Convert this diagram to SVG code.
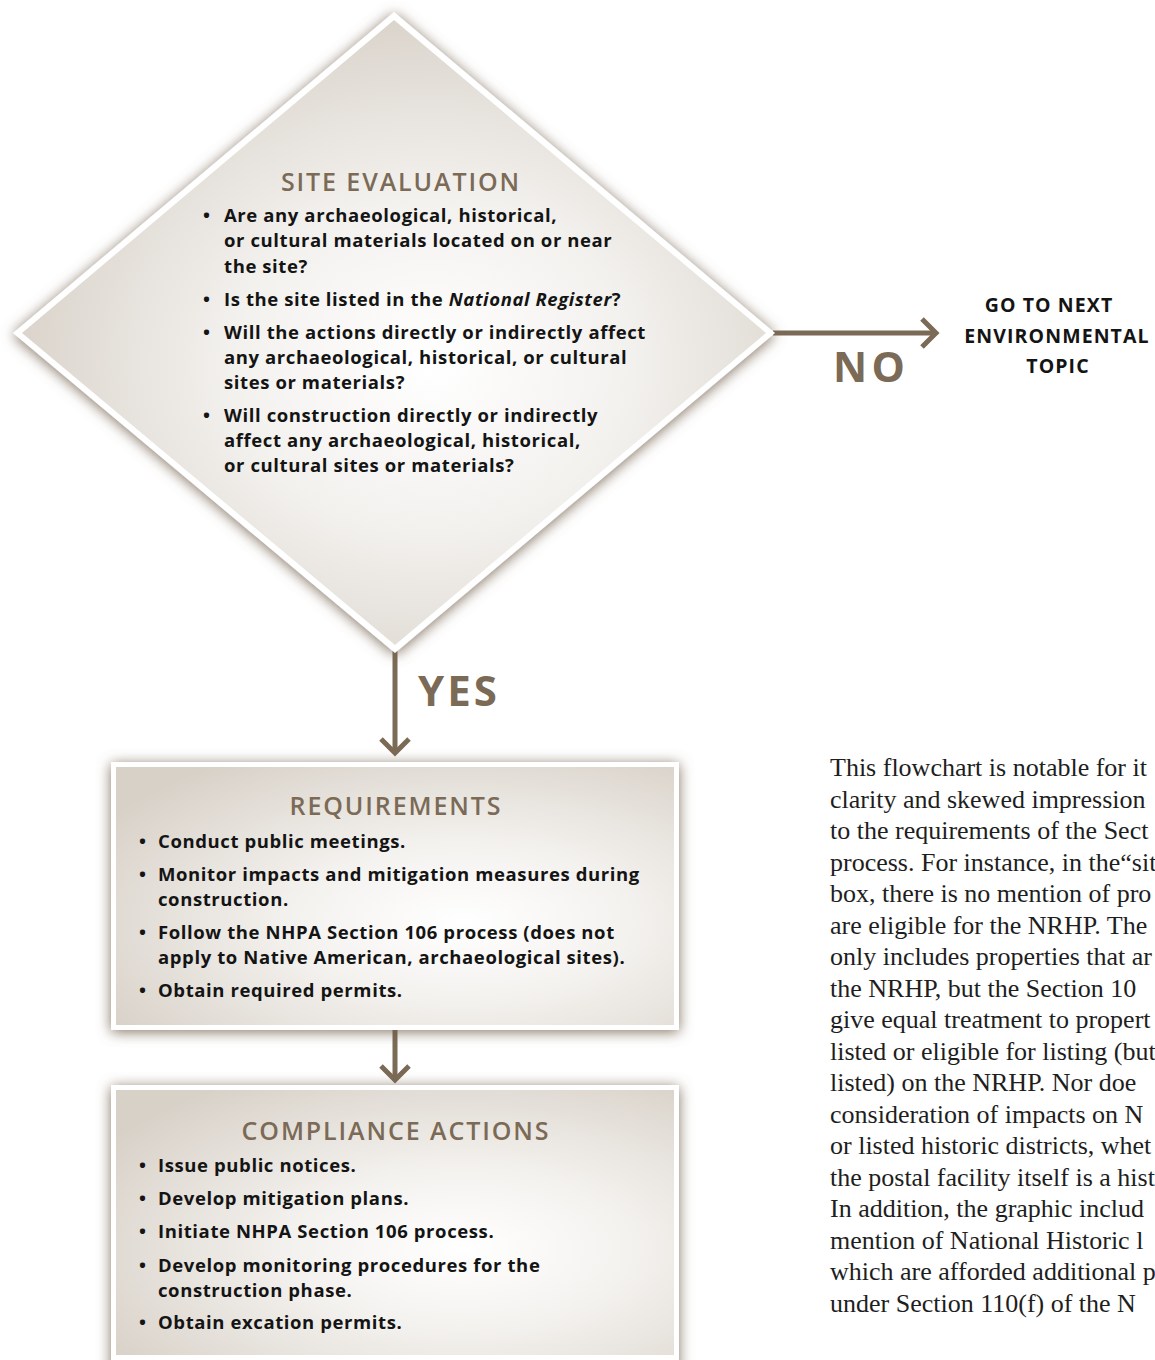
<svg xmlns="http://www.w3.org/2000/svg" width="1155" height="1360" viewBox="0 0 1155 1360">
<style>
.title{font-family:"Open Sans","DejaVu Sans",sans-serif;font-weight:600;font-size:25px;fill:#7b6a56;letter-spacing:1.9px;text-anchor:middle}
.body{font-family:"Open Sans","DejaVu Sans",sans-serif;font-weight:700;font-size:18.5px;fill:#141414;letter-spacing:0.6px}
.big{font-family:"Open Sans","DejaVu Sans",sans-serif;font-weight:700;font-size:42px;fill:#7b6a56}
.go{font-family:"Open Sans","DejaVu Sans",sans-serif;font-weight:700;font-size:19.5px;fill:#141414;letter-spacing:1.1px;text-anchor:middle}
.para{font-family:"Liberation Serif","Times New Roman",serif;font-size:26px;fill:#1e1e1e}
.conn{stroke:#7b6a56;stroke-width:5;fill:none}
</style>
<defs>
<radialGradient id="gDia" cx="0.55" cy="0.55" r="0.6">
<stop offset="0" stop-color="#ffffff"/>
<stop offset="0.45" stop-color="#f3f1ee"/>
<stop offset="1" stop-color="#d6cfc6"/>
</radialGradient>
<radialGradient id="gBox" cx="0.62" cy="0.6" r="0.75">
<stop offset="0" stop-color="#ffffff"/>
<stop offset="0.4" stop-color="#f4f2ef"/>
<stop offset="1" stop-color="#d8d1c8"/>
</radialGradient>
<filter id="shadow" x="-10%" y="-10%" width="120%" height="120%">
<feGaussianBlur in="SourceAlpha" stdDeviation="7"/>
<feOffset dx="0" dy="2" result="b"/>
<feFlood flood-color="#6e5a46" flood-opacity="0.85"/>
<feComposite in2="b" operator="in"/>
<feMerge><feMergeNode/><feMergeNode in="SourceGraphic"/></feMerge>
</filter>
<marker id="chev" markerUnits="userSpaceOnUse" viewBox="-20 -20 40 40" markerWidth="40" markerHeight="40" refX="0" refY="0" orient="auto" overflow="visible">
<path d="M-14,-14 L0,0 L-14,14" stroke="#7b6a56" stroke-width="5" fill="none"/>
</marker>
</defs>
<rect width="1155" height="1360" fill="#ffffff"/>

<g id="connectors">
<line class="conn" x1="773" y1="333" x2="936" y2="333" marker-end="url(#chev)"/>
<line class="conn" x1="395" y1="650" x2="395" y2="753" marker-end="url(#chev)"/>
<line class="conn" x1="395" y1="1030" x2="395" y2="1080" marker-end="url(#chev)"/>
</g>

<g id="site-evaluation">
<polygon points="394,12 775,333 395,653 13,333" fill="#ffffff" filter="url(#shadow)"/>
<polygon points="394,20 766,333 395,645 22,333" fill="url(#gDia)"/>
<text class="title" x="401" y="191">SITE EVALUATION</text>
<text class="body" x="203" y="222">•</text>
<text class="body" x="224" y="222">Are any archaeological, historical,</text>
<text class="body" x="224" y="247">or cultural materials located on or near</text>
<text class="body" x="224" y="273">the site?</text>
<text class="body" x="203" y="306">•</text>
<text class="body" x="224" y="306">Is the site listed in the <tspan font-style="italic">National Register</tspan>?</text>
<text class="body" x="203" y="339">•</text>
<text class="body" x="224" y="339">Will the actions directly or indirectly affect</text>
<text class="body" x="224" y="364">any archaeological, historical, or cultural</text>
<text class="body" x="224" y="389">sites or materials?</text>
<text class="body" x="203" y="422">•</text>
<text class="body" x="224" y="422">Will construction directly or indirectly</text>
<text class="body" x="224" y="447">affect any archaeological, historical,</text>
<text class="body" x="224" y="472">or cultural sites or materials?</text>
</g>

<g id="label-no">
<text class="big" x="833" y="382" textLength="72">NO</text>
</g>
<g id="label-yes">
<text class="big" x="418" y="706" textLength="79">YES</text>
</g>

<g id="next-topic">
<text class="go" x="1049" y="312">GO TO NEXT</text>
<text class="go" x="1057" y="343">ENVIRONMENTAL</text>
<text class="go" x="1058" y="373">TOPIC</text>
</g>

<g id="requirements">
<rect x="111" y="762" width="568" height="268" fill="#ffffff" filter="url(#shadow)"/>
<rect x="116" y="767" width="558" height="258" fill="url(#gBox)"/>
<text class="title" x="396" y="815">REQUIREMENTS</text>
<text class="body" x="139" y="848">•</text>
<text class="body" x="158" y="848">Conduct public meetings.</text>
<text class="body" x="139" y="881">•</text>
<text class="body" x="158" y="881">Monitor impacts and mitigation measures during</text>
<text class="body" x="158" y="906">construction.</text>
<text class="body" x="139" y="939">•</text>
<text class="body" x="158" y="939">Follow the NHPA Section 106 process (does not</text>
<text class="body" x="158" y="964">apply to Native American, archaeological sites).</text>
<text class="body" x="139" y="997">•</text>
<text class="body" x="158" y="997">Obtain required permits.</text>
</g>

<g id="compliance-actions">
<rect x="111" y="1085" width="568" height="290" fill="#ffffff" filter="url(#shadow)"/>
<rect x="116" y="1090" width="558" height="265" fill="url(#gBox)"/>
<text class="title" x="396" y="1140">COMPLIANCE ACTIONS</text>
<text class="body" x="139" y="1172">•</text>
<text class="body" x="158" y="1172">Issue public notices.</text>
<text class="body" x="139" y="1205">•</text>
<text class="body" x="158" y="1205">Develop mitigation plans.</text>
<text class="body" x="139" y="1238">•</text>
<text class="body" x="158" y="1238">Initiate NHPA Section 106 process.</text>
<text class="body" x="139" y="1272">•</text>
<text class="body" x="158" y="1272">Develop monitoring procedures for the</text>
<text class="body" x="158" y="1297">construction phase.</text>
<text class="body" x="139" y="1329">•</text>
<text class="body" x="158" y="1329">Obtain excation permits.</text>
</g>

<g id="commentary">
<text class="para" x="830" y="776">This flowchart is notable for it</text>
<text class="para" x="830" y="807.5">clarity and skewed impression</text>
<text class="para" x="830" y="839">to the requirements of the Sect</text>
<text class="para" x="830" y="870.5">process. For instance, in the“sit</text>
<text class="para" x="830" y="902">box, there is no mention of pro</text>
<text class="para" x="830" y="933.5">are eligible for the NRHP. The</text>
<text class="para" x="830" y="965">only includes properties that ar</text>
<text class="para" x="830" y="996.5">the NRHP, but the Section 10</text>
<text class="para" x="830" y="1028">give equal treatment to propert</text>
<text class="para" x="830" y="1059.5">listed or eligible for listing (but</text>
<text class="para" x="830" y="1091">listed) on the NRHP. Nor doe</text>
<text class="para" x="830" y="1122.5">consideration of impacts on N</text>
<text class="para" x="830" y="1154">or listed historic districts, whet</text>
<text class="para" x="830" y="1185.5">the postal facility itself is a hist</text>
<text class="para" x="830" y="1217">In addition, the graphic includ</text>
<text class="para" x="830" y="1248.5">mention of National Historic l</text>
<text class="para" x="830" y="1280">which are afforded additional p</text>
<text class="para" x="830" y="1311.5">under Section 110(f) of the N</text>
</g>
</svg>
